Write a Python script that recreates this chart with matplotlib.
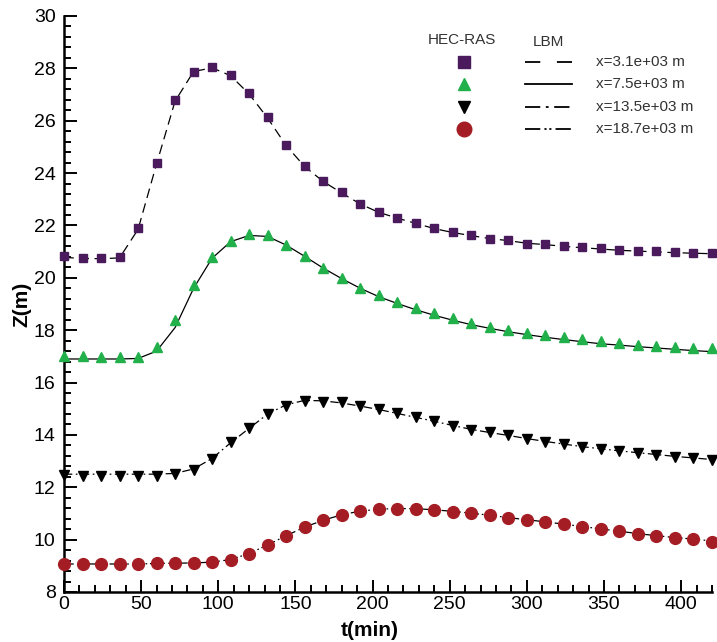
import numpy as np
import matplotlib
matplotlib.use("Agg")
import matplotlib.pyplot as plt
from matplotlib.ticker import MultipleLocator

plt.rcParams['font.family'] = ['Liberation Sans', 'DejaVu Sans']
plt.rcParams['lines.scale_dashes'] = False

# 时间 (min)，每 12 分钟一个点
t = np.arange(0, 421, 12)

# HEC-RAS 结果
hec_31 = [20.82, 20.77, 20.77, 20.79, 21.90, 24.39, 26.78, 27.86, 28.05, 27.75,
          27.05, 26.13, 25.09, 24.27, 23.70, 23.27, 22.82, 22.50, 22.30, 22.10,
          21.89, 21.74, 21.62, 21.50, 21.43, 21.31, 21.29, 21.20, 21.17, 21.12,
          21.06, 21.02, 21.02, 20.97, 20.93, 20.93]
hec_75 = [17.02, 17.01, 16.97, 16.97, 16.97, 17.37, 18.39, 19.72, 20.80, 21.41,
          21.68, 21.63, 21.27, 20.83, 20.37, 19.99, 19.63, 19.33, 19.07, 18.83,
          18.64, 18.45, 18.28, 18.13, 18.02, 17.90, 17.81, 17.73, 17.67, 17.57,
          17.52, 17.44, 17.40, 17.37, 17.33, 17.31]
hec_135 = [12.47, 12.42, 12.44, 12.44, 12.44, 12.44, 12.50, 12.66, 13.08, 13.72,
           14.27, 14.79, 15.11, 15.29, 15.27, 15.24, 15.10, 14.98, 14.82, 14.67,
           14.53, 14.34, 14.19, 14.10, 13.98, 13.86, 13.74, 13.65, 13.55, 13.46,
           13.39, 13.32, 13.23, 13.16, 13.13, 13.04]
hec_187 = [9.06, 9.06, 9.06, 9.06, 9.06, 9.10, 9.10, 9.10, 9.14, 9.22,
           9.45, 9.79, 10.14, 10.48, 10.74, 10.95, 11.10, 11.16, 11.18, 11.18,
           11.15, 11.07, 11.00, 10.94, 10.84, 10.75, 10.69, 10.59, 10.50, 10.40,
           10.33, 10.22, 10.14, 10.08, 10.03, 9.92]

# LBM 结果
lbm_31 = [20.78, 20.74, 20.73, 20.76, 21.85, 24.35, 26.75, 27.88, 28.02, 27.72,
          27.02, 26.10, 25.05, 24.25, 23.68, 23.24, 22.82, 22.50, 22.28, 22.08,
          21.88, 21.73, 21.61, 21.50, 21.42, 21.32, 21.27, 21.20, 21.15, 21.10,
          21.05, 21.02, 20.99, 20.96, 20.94, 20.92]
lbm_75 = [16.90, 16.90, 16.90, 16.90, 16.92, 17.20, 18.10, 19.60, 20.75, 21.38,
          21.62, 21.58, 21.25, 20.82, 20.37, 19.97, 19.60, 19.28, 19.02, 18.78,
          18.57, 18.38, 18.21, 18.07, 17.94, 17.83, 17.73, 17.64, 17.56, 17.48,
          17.43, 17.37, 17.32, 17.27, 17.22, 17.18]
lbm_135 = [12.50, 12.50, 12.50, 12.50, 12.50, 12.50, 12.53, 12.70, 13.10, 13.70,
           14.25, 14.80, 15.15, 15.32, 15.30, 15.22, 15.10, 14.97, 14.82, 14.67,
           14.52, 14.36, 14.21, 14.09, 13.98, 13.86, 13.75, 13.65, 13.55, 13.47,
           13.39, 13.32, 13.25, 13.18, 13.12, 13.06]
lbm_187 = [9.07, 9.07, 9.07, 9.07, 9.07, 9.09, 9.10, 9.11, 9.14, 9.24,
           9.47, 9.80, 10.15, 10.48, 10.74, 10.95, 11.09, 11.16, 11.19, 11.18,
           11.14, 11.08, 11.01, 10.93, 10.84, 10.76, 10.68, 10.59, 10.50, 10.41,
           10.32, 10.23, 10.15, 10.08, 10.02, 9.95]

labels = ['x=3.1e+03 m', 'x=7.5e+03 m', 'x=13.5e+03 m', 'x=18.7e+03 m']
colors = ['#4b1a5c', '#22b04b', '#000000', '#a51d24']
markers = ['s', '^', 'v', 'o']
msizes = [6, 7, 7, 8.5]
dashes = [(7, 4), (), (6, 2.5, 1.2, 2.5), (7, 2.5, 1.2, 2, 1.2, 2.5)]
hec = [hec_31, hec_75, hec_135, hec_187]
lbm = [lbm_31, lbm_75, lbm_135, lbm_187]

fig = plt.figure(figsize=(7.17, 6.42), dpi=100)
ax = fig.add_axes([64 / 717, 1 - 592 / 642, 648 / 717, 576 / 642])

for i in range(4):
    ln, = ax.plot(t, lbm[i], color='black', lw=0.9, zorder=2)
    if dashes[i]:
        ln.set_dashes(dashes[i])
    ax.plot(t, hec[i], linestyle='none', marker=markers[i], ms=msizes[i],
            color=colors[i], mec=colors[i], zorder=3, clip_on=False)

ax.set_xlim(0, 420)
ax.set_ylim(8, 30)
ax.xaxis.set_major_locator(MultipleLocator(50))
ax.xaxis.set_minor_locator(MultipleLocator(10))
ax.yaxis.set_major_locator(MultipleLocator(2))
ax.yaxis.set_minor_locator(MultipleLocator(0.4))
ax.tick_params(which='both', direction='in', width=1.4, labelsize=14, colors='black')
ax.tick_params(which='major', length=9, pad=6)
ax.tick_params(which='minor', length=5)
ax.tick_params(axis='x', pad=3)
for s in ['top', 'right']:
    ax.spines[s].set_visible(False)
for s in ['left', 'bottom']:
    ax.spines[s].set_linewidth(1.8)

ax.set_xlabel('t(min)', fontsize=15, fontweight='bold', va='center')
ax.xaxis.set_label_coords((370 - 64) / 648, (592 - 630) / 576)
ax.set_ylabel('Z(m)', fontsize=15, fontweight='bold', labelpad=2)

# 图例（手工排布）
def ax_xy(px, py):
    return (px - 64) / 648, (592 - py) / 576

tc = '#333333'
ax.text(*ax_xy(462, 40), 'HEC-RAS', transform=ax.transAxes, ha='center',
        va='center', fontsize=11, color=tc)
ax.text(*ax_xy(548, 42), 'LBM', transform=ax.transAxes, ha='center',
        va='center', fontsize=11, color=tc)
rows = [62, 84, 107, 129]
leg_dashes = [(11, 12), (), (11, 4, 2, 4), (11, 3, 1.5, 2, 1.5, 3)]
for i, py in enumerate(rows):
    mx, my = ax_xy(464, py)
    ax.plot([mx], [my], marker=markers[i], ms=msizes[i] + 2, color=colors[i],
            linestyle='none', transform=ax.transAxes, clip_on=False)
    x0, y0 = ax_xy(525, py)
    x1, _ = ax_xy(572, py)
    ln, = ax.plot([x0, x1], [y0, y0], color='black', lw=1.3,
                  transform=ax.transAxes, clip_on=False)
    if leg_dashes[i]:
        ln.set_dashes(leg_dashes[i])
    ax.text(*ax_xy(596, py), labels[i], transform=ax.transAxes, ha='left',
            va='center', fontsize=11, color=tc)

fig.savefig('out.png', dpi=100)
